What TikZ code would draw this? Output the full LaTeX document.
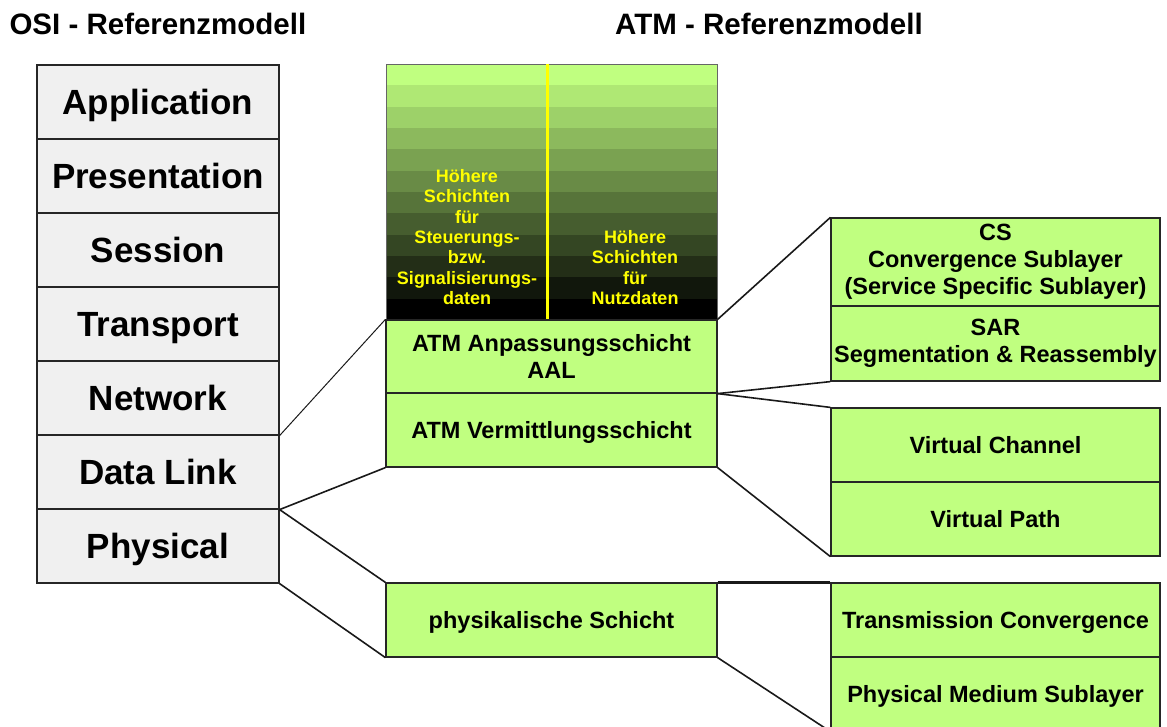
\documentclass[tikz,border=0pt]{standalone}
\usepackage{fontspec}
\setmainfont{Liberation Sans}
\usetikzlibrary{calc}

\definecolor{atmgreen}{HTML}{C0FF80}
\definecolor{osigray}{HTML}{F0F0F0}
\definecolor{layeryellow}{HTML}{FFFF00}

\begin{document}
\begin{tikzpicture}[x=1pt,y=-1pt]
\tikzstyle{osi}=[draw=black!85,line width=1.2pt,fill=osigray,minimum width=242pt,minimum height=74pt,inner sep=0pt,text height=25pt,text depth=0pt,font=\fontsize{35}{40}\selectfont\bfseries]
\tikzstyle{atm}=[draw=black!85,line width=1.2pt,fill=atmgreen,minimum width=331pt,inner sep=0pt,align=center,font=\fontsize{23.5}{27}\selectfont\bfseries]
\tikzstyle{sub}=[atm,minimum width=329pt]
\tikzstyle{oneline}=[text height=17pt,text depth=0pt]
\tikzstyle{link}=[line width=1.6pt,black!90]
\tikzstyle{title}=[font=\fontsize{29.5}{34}\selectfont\bfseries]
\tikzstyle{upper}=[text=layeryellow,align=center,anchor=south,inner sep=0pt,font=\fontsize{18}{20.4}\selectfont\bfseries]

\useasboundingbox (0,0) rectangle (1167,726);

% ========= titles
\node (osititle) [title,anchor=west] at (6,24) {OSI - Referenzmodell};
\node (atmtitle) [title] at (769,24) {ATM - Referenzmodell};

% ========= OSI stack
\foreach \lay/\txt [count=\i] in {app/Application,pres/Presentation,sess/Session,trans/Transport,net/Network,dl/Data Link,phy/Physical}
  \node (\lay) [osi] at (158,28+74*\i) {\txt};

% ========= higher layers
\foreach \i in {0,...,11} {
  \pgfmathsetmacro\pct{100-\i*100/11}
  \fill [atmgreen!\pct!black] (386,64+\i*21.333) rectangle (717,64+\i*21.333+21.6);
}
\node (higher) [draw=black!60,line width=0.8pt,minimum width=331pt,minimum height=256pt,inner sep=0pt] at (551.5,192) {};
\draw [layeryellow,line width=3pt] ([xshift=-4.5pt]higher.north) -- ([xshift=-4.5pt]higher.south);
\node (ctrl) [upper] at (467,305) {Höhere\\Schichten\\für\\Steuerungs-\\bzw.\\Signalisierungs-\\daten};
\node (user) [upper] at (635,305) {Höhere\\Schichten\\für\\Nutzdaten};

% ========= ATM layers
\node (aal) [atm,minimum height=73pt] at (551.5,356.5) {ATM Anpassungsschicht\\AAL};
\node (verm) [atm,oneline,minimum height=74pt] at (551.5,430) {ATM Vermittlungsschicht};
\node (phl) [atm,oneline,minimum height=74pt] at (551.5,620) {physikalische Schicht};

% ========= sublayers
\node (cs) [sub,minimum height=88pt] at (995.5,262) {CS\\Convergence Sublayer\\(Service Specific Sublayer)};
\node (sar) [sub,minimum height=75pt] at (995.5,343.5) {SAR\\Segmentation \& Reassembly};
\node (vc) [sub,oneline,minimum height=74pt] at (995.5,445) {Virtual Channel};
\node (vp) [sub,oneline,minimum height=74pt] at (995.5,519) {Virtual Path};
\node (tc) [sub,oneline,minimum height=74pt] at (995.5,620) {Transmission Convergence};
\node (pm) [sub,oneline,minimum height=74pt] at (995.5,694) {Physical Medium Sublayer};

% ====== connections
\draw [link,line width=1pt] (net.south east) -- (aal.north west);
\draw [link] (dl.south east) -- (verm.south west);
\draw [link] (dl.south east) -- (phl.north west);
\draw [link] (phy.south east) -- (phl.south west);
\draw [link] (aal.north east) -- (cs.north west);
\draw [link] (aal.south east) -- (sar.south west);
\draw [link] (aal.south east) -- (vc.north west);
\draw [link] (verm.south east) -- (vp.south west);
\draw [link,line width=2.5pt] (phl.north east) -- (tc.north west);
\draw [link] (phl.south east) -- (pm.south west);
\end{tikzpicture}
\end{document}
